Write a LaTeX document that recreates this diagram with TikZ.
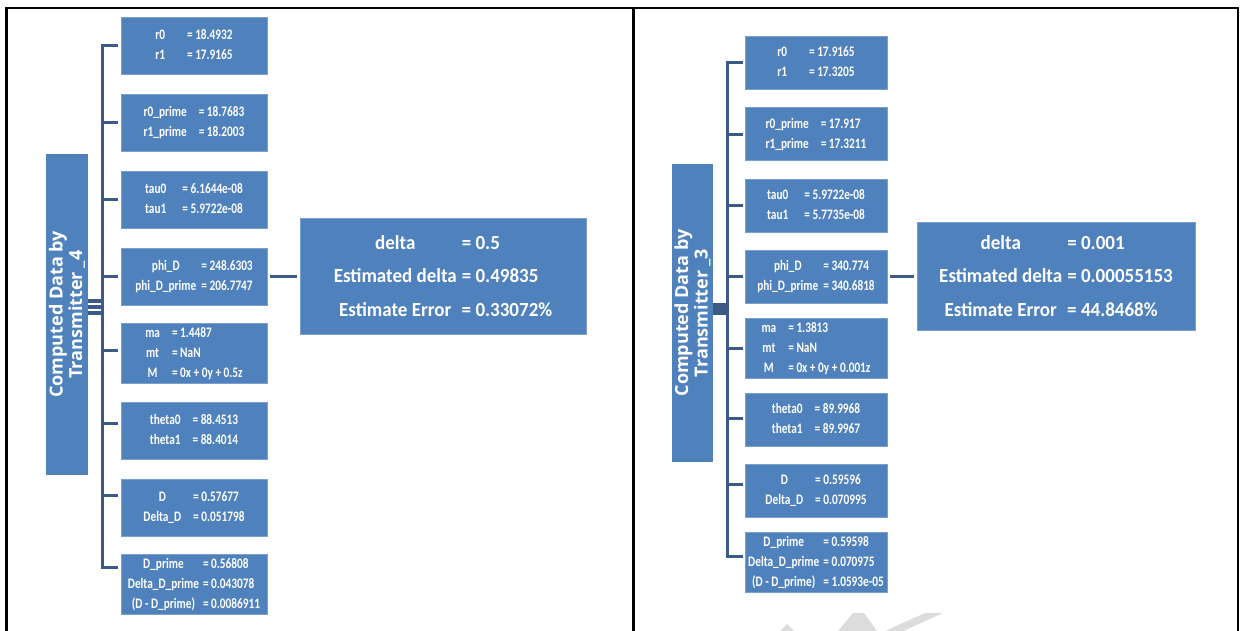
\documentclass[tikz,border=0pt]{standalone}
\usepackage{fontspec}
\setmainfont{Carlito}
\newfontfamily\boxfont[FakeStretch=0.78, BoldFeatures={FakeStretch=0.78}]{Carlito}
\newfontfamily\resfont[FakeStretch=0.95, BoldFeatures={FakeStretch=0.95}]{Carlito}
\newfontfamily\ttlfont{Open Sans}
\definecolor{boxblue}{HTML}{4F81BD}
\definecolor{linkblue}{HTML}{3B5B86}
\definecolor{wmgray}{HTML}{DCDCDC}
\newcommand{\kv}[2][10pt]{\begin{tabular}{@{}c@{\hspace{#1}}l@{}}#2\end{tabular}}
\tikzset{
  frameline/.style={line width=2.5pt, black},
  link/.style={line width=3pt, linkblue},
  databox/.style={fill=boxblue, draw=boxblue!75!white, line width=0.8pt, text=white, inner sep=0pt,
    font=\boxfont\bfseries\fontsize{14.5}{16}\selectfont\def\arraystretch{1.25}},
  ttlbox/.style={fill=boxblue, text=white, inner sep=0pt, rotate=90, align=center,
    font=\ttlfont\bfseries\fontsize{18}{19.5}\selectfont},
  resbox/.style={fill=boxblue, draw=boxblue!75!white, line width=0.8pt, text=white, inner sep=0pt,
    font=\resfont\bfseries\fontsize{20}{24}\selectfont\def\arraystretch{1.4}},
}
\begin{document}
\begin{tikzpicture}[x=1pt,y=-1pt]
\useasboundingbox (0,0) rectangle (1240,631);
\fill[wmgray] (780,631) -- (787,624) -- (794,631) -- cycle;
\fill[wmgray] (838,631) -- (853,613) -- (864,613) -- (877,631) -- cycle;
\fill[wmgray] (885,631) -- (925,613) -- (943,613) -- (903,631) -- cycle;
\draw[frameline] (6.5,631) -- (6.5,8) -- (1238,8) -- (1238,631);
\draw[frameline] (633.5,8) -- (633.5,631);

\def\bw{146}\def\bh{57}
\node[ttlbox, minimum width=321, minimum height=42] (ttlL) at (67,314.5) {Computed Data by\\Transmitter\hspace{4pt}\_4};
\node[databox, minimum width=\bw, minimum height=\bh] (l1) at (194,45.5) {\kv[22pt]{r0 & = 18.4932\\ r1 & = 17.9165}};
\node[databox, minimum width=\bw, minimum height=\bh] (l2) at (194,122.5) {\kv[12pt]{r0\_prime & = 18.7683\\ r1\_prime & = 18.2003}};
\node[databox, minimum width=\bw, minimum height=\bh] (l3) at (194,199.5) {\kv[16pt]{tau0 & = 6.1644e-08\\ tau1 & = 5.9722e-08}};
\node[databox, minimum width=\bw, minimum height=\bh] (l4) at (194,276.5) {\kv[5pt]{phi\_D & = 248.6303\\ phi\_D\_prime & = 206.7747}};
\node[databox, minimum width=\bw, minimum height=\bh] (l5) at (194,353.5) {\kv[12pt]{ma & = 1.4487\\ mt & = NaN\\ M & = 0x + 0y + 0.5z}};
\node[databox, minimum width=\bw, minimum height=\bh] (l6) at (194,430.5) {\kv[12pt]{theta0 & = 88.4513\\ theta1 & = 88.4014}};
\node[databox, minimum width=\bw, minimum height=\bh] (l7) at (194,507.5) {\kv[12pt]{D & = 0.57677\\ Delta\_D & = 0.051798}};
\node[databox, minimum width=\bw, minimum height=\bh] (l8) at (194,584.5) {\kv[4pt]{D\_prime & = 0.56808\\ Delta\_D\_prime & = 0.043078\\ (D - D\_prime) & = 0.0086911}};
\node[resbox, minimum width=286, minimum height=116] (resL) at (443,276) {\kv[5pt]{delta & = 0.5\\ Estimated delta & = 0.49835\\ Estimate Error & = 0.33072\%}};

\draw[link] ([xshift=-3pt]l1.west) -- ([xshift=-18pt]l1.west) -- ([xshift=-18pt,yshift=17pt]l8.west) -- ([xshift=-3pt,yshift=17pt]l8.west);
\foreach \i/\dy in {2/0,3/0,4/0,5/3,6/7,7/12}
  \draw[link] ([xshift=-18pt,yshift=\dy pt]l\i.west) -- ([xshift=-3pt,yshift=\dy pt]l\i.west);
\foreach \dy in {1.5,7.5,13.5}
  \draw[linkblue, line width=4.5pt] ([yshift=\dy pt]ttlL.south) -- ++(15,0);
\draw[link, shorten <=3pt, shorten >=3pt] (l4.east) -- (resL.west |- l4.east);

\def\bw{142}\def\bh{53}
\node[ttlbox, minimum width=298, minimum height=41] (ttlR) at (692.5,313) {Computed Data by\\Transmitter\hspace{4pt}\_3};
\node[databox, minimum width=\bw, minimum height=\bh] (r1) at (816,63) {\kv[22pt]{r0 & = 17.9165\\ r1 & = 17.3205}};
\node[databox, minimum width=\bw, minimum height=\bh] (r2) at (816,134.3) {\kv[12pt]{r0\_prime & = 17.917\\ r1\_prime & = 17.3211}};
\node[databox, minimum width=\bw, minimum height=\bh] (r3) at (816,205.6) {\kv[16pt]{tau0 & = 5.9722e-08\\ tau1 & = 5.7735e-08}};
\node[databox, minimum width=\bw, minimum height=\bh] (r4) at (816,276.9) {\kv[5pt]{phi\_D & = 340.774\\ phi\_D\_prime & = 340.6818}};
\node[databox, minimum width=\bw, minimum height=\bh] (r5) at (816,348.2) {\kv[12pt]{ma & = 1.3813\\ mt & = NaN\\ M & = 0x + 0y + 0.001z}};
\node[databox, minimum width=\bw, minimum height=\bh] (r6) at (816,419.5) {\kv[12pt]{theta0 & = 89.9968\\ theta1 & = 89.9967}};
\node[databox, minimum width=\bw, minimum height=\bh] (r7) at (816,490.8) {\kv[12pt]{D & = 0.59596\\ Delta\_D & = 0.070995}};
\node[databox, minimum width=\bw, minimum height=\bh] (r8) at (816,562.1) {\kv[4pt]{D\_prime & = 0.59598\\ Delta\_D\_prime & = 0.070975\\ (D - D\_prime) & = 1.0593e-05}};
\node[resbox, minimum width=278, minimum height=108] (resR) at (1056,276) {\kv[5pt]{delta & = 0.001\\ Estimated delta & = 0.00055153\\ Estimate Error & = 44.8468\%}};

\draw[link] ([xshift=-2pt]r1.west) -- ([xshift=-17pt]r1.west) -- ([xshift=-17pt,yshift=6pt]r8.west) -- ([xshift=-2pt,yshift=6pt]r8.west);
\foreach \i/\dy in {2/0,3/0,4/0,5/0,6/1.5,7/6}
  \draw[link] ([xshift=-17pt,yshift=\dy pt]r\i.west) -- ([xshift=-2pt,yshift=\dy pt]r\i.west);
\draw[linkblue, line width=12pt] ([yshift=4pt]ttlR.south) -- ++(15,0);
\draw[link, shorten <=3pt, shorten >=3pt] (r4.east) -- (resR.west |- r4.east);
\end{tikzpicture}
\end{document}
